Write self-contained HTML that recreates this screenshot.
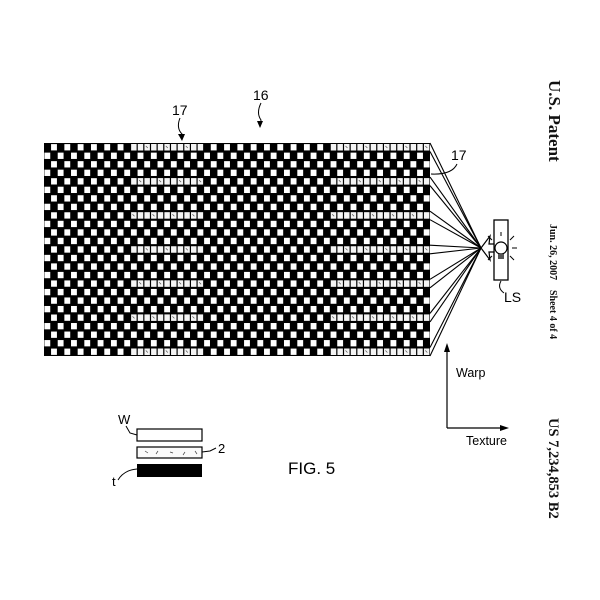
<!DOCTYPE html>
<html><head><meta charset="utf-8"><style>
html,body{margin:0;padding:0;background:#fff;width:600px;height:600px;overflow:hidden}
svg{display:block}
</style></head><body>
<svg id="s" width="600" height="600" xmlns="http://www.w3.org/2000/svg" font-family="Liberation Sans, sans-serif">
<rect width="600" height="600" fill="#fff"/>
<g id="grid"></g>
<g id="rays" stroke="#000" stroke-width="1.1" fill="none"></g>
<!-- light source -->
<rect x="494" y="220" width="14" height="60" fill="#fff" stroke="#000" stroke-width="1.3"/>
<circle cx="501" cy="248" r="6" fill="#fff" stroke="#000" stroke-width="1.2"/>
<rect x="498" y="254" width="6" height="5" fill="#555"/>
<g stroke="#000" stroke-width="1">
<line x1="501" y1="236" x2="501" y2="232"/><line x1="510" y1="240" x2="514" y2="236"/><line x1="512" y1="248" x2="517" y2="248"/><line x1="510" y1="256" x2="514" y2="260"/><line x1="492" y1="240" x2="488" y2="236"/><line x1="492" y1="256" x2="488" y2="260"/>
</g>
<path d="M481,248 L490,236 L489,244 L494,244 L494,252 L489,252 L490,260 Z" fill="#fff" stroke="#000" stroke-width="1.2"/>
<path d="M501,281 Q497,288 504,293" fill="none" stroke="#000" stroke-width="1"/>
<text x="504" y="302" font-size="14">LS</text>
<!-- labels -->
<text x="172" y="115" font-size="14">17</text>
<path d="M180,118 Q176,128 182,134 L182,140" fill="none" stroke="#000" stroke-width="1"/>
<path d="M178,134 L182,141 L185,134" fill="#000"/>
<text x="253" y="100" font-size="14">16</text>
<path d="M261,103 Q256,113 261,120 L260,127" fill="none" stroke="#000" stroke-width="1"/>
<path d="M257,121 L260,128 L263,121" fill="#000"/>
<text x="451" y="160" font-size="14">17</text>
<path d="M457,164 Q452,175 431,174" fill="none" stroke="#000" stroke-width="1"/>
<!-- axes -->
<line x1="447" y1="428" x2="447" y2="346" stroke="#000" stroke-width="1.2"/>
<path d="M444,352 L447,343 L450,352 Z" fill="#000"/>
<line x1="447" y1="428" x2="505" y2="428" stroke="#000" stroke-width="1.2"/>
<path d="M500,425 L509,428 L500,431 Z" fill="#000"/>
<text x="456" y="377" font-size="12.5">Warp</text>
<text x="466" y="445" font-size="12.5">Texture</text>
<!-- legend -->
<rect x="137" y="429" width="65" height="12" fill="#fff" stroke="#000" stroke-width="1.2"/>
<rect x="137" y="447" width="65" height="11" fill="#fafafa" stroke="#000" stroke-width="1.2"/>
<g stroke="#444" stroke-width="0.7"><line x1="145" y1="451" x2="148" y2="453"/><line x1="156" y1="454" x2="158" y2="451"/><line x1="170" y1="452" x2="173" y2="453"/><line x1="183" y1="455" x2="185" y2="452"/><line x1="195" y1="451" x2="197" y2="454"/></g>
<rect x="137" y="464" width="65" height="13" fill="#000"/>
<text x="118" y="424" font-size="13">W</text>
<path d="M126,426 L130,433 L137,435" fill="none" stroke="#000" stroke-width="1"/>
<text x="218" y="453" font-size="13">2</text>
<path d="M202,452 L210,451 L216,448" fill="none" stroke="#000" stroke-width="1"/>
<text x="112" y="486" font-size="13">t</text>
<path d="M118,480 Q124,470 137,469" fill="none" stroke="#000" stroke-width="1"/>
<text x="288" y="474" font-size="17">FIG. 5</text>
<!-- side text -->
<g font-family="Liberation Serif, serif" font-weight="bold" fill="#111">
<text transform="translate(549,80) rotate(90)" font-size="17">U.S. Patent</text>
<text transform="translate(550,224) rotate(90)" font-size="10">Jun. 26, 2007</text>
<text transform="translate(550,290) rotate(90)" font-size="10">Sheet 4 of 4</text>
<text transform="translate(549,418) rotate(90)" font-size="14.5">US 7,234,853 B2</text>
</g>
</svg>
<script>
(function(){
var g=document.getElementById('grid'),r=document.getElementById('rays');
var x0=44,y0=143,cols=58,rows=25,cw=386/58,ch=213/25;
var fib=[0,4,8,12,16,20,24];
function inFib(c){return (c>=13&&c<=23)||(c>=43&&c<=57);}
var h='<rect x="'+x0+'" y="'+y0+'" width="386" height="213" fill="#000"/>';
for(var i=0;i<rows;i++){
 var isF=fib.indexOf(i)>=0;
 for(var j=0;j<cols;j++){
  var x=x0+j*cw,y=y0+i*ch;
  if(isF&&inFib(j)){
   h+='<rect x="'+(x+0.6).toFixed(2)+'" y="'+(y+1).toFixed(2)+'" width="'+(cw-1.2).toFixed(2)+'" height="'+(ch-2).toFixed(2)+'" fill="#f4f4f4"/>';
   if((i+j)%3==0)h+='<line x1="'+(x+2).toFixed(1)+'" y1="'+(y+3).toFixed(1)+'" x2="'+(x+4).toFixed(1)+'" y2="'+(y+5).toFixed(1)+'" stroke="#555" stroke-width="0.7"/>';
  } else if((i+j)%2==1){
   h+='<rect x="'+(x+0.4).toFixed(2)+'" y="'+(y+1.1).toFixed(2)+'" width="'+(cw-0.8).toFixed(2)+'" height="'+(ch-2.2).toFixed(2)+'" fill="#fff"/>';
  }
 }
}
g.innerHTML=h;
var fx=481,fy=248,l='';
fib.forEach(function(i){
 var a=y0+i*ch,b=a+ch;
 l+='<line x1="430" y1="'+a.toFixed(1)+'" x2="'+fx+'" y2="'+fy+'"/>';
 l+='<line x1="430" y1="'+b.toFixed(1)+'" x2="'+fx+'" y2="'+fy+'"/>';
});
r.innerHTML=l;
})();
</script>
</body></html>
